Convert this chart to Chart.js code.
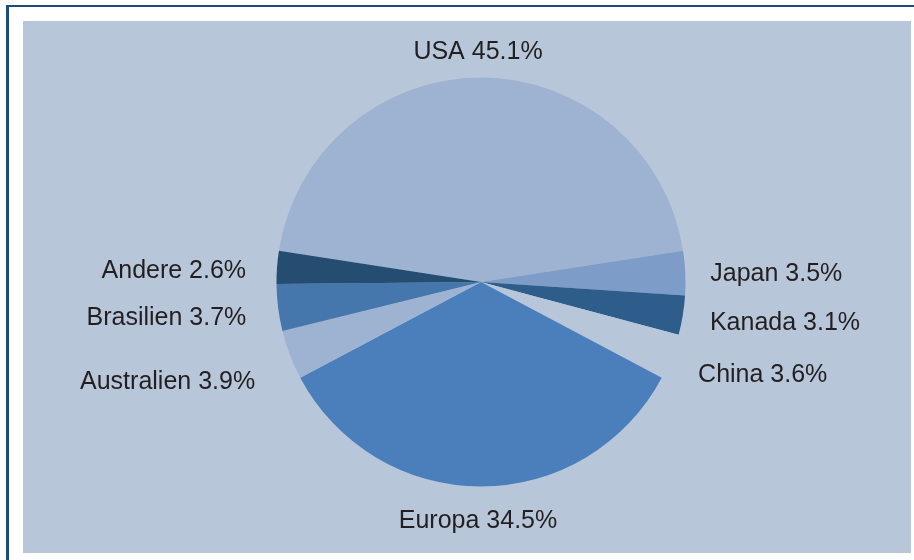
<!DOCTYPE html>
<html>
<head>
<meta charset="utf-8">
<script src="https://cdn.jsdelivr.net/npm/chart.js@4/dist/chart.umd.min.js"></script>
<style>
  html, body { margin: 0; padding: 0; background: #ffffff; width: 914px; height: 560px; overflow: hidden; }
  #frame { position: absolute; left: 6px; top: 5px; width: 920px; height: 570px;
           border-top: 2px solid #1b4d78; border-left: 3px solid #1b4d78; box-sizing: border-box; }
  #panel { position: absolute; left: 23px; top: 21px; width: 888px; height: 532px; background: #b7c6d9; }
  canvas { display: block; }
</style>
</head>
<body>
<div id="frame"></div>
<div id="panel"><canvas id="c" width="888" height="532"></canvas></div>
<script>
const categories = ["USA", "Japan", "Kanada", "China", "Europa", "Australien", "Brasilien", "Andere"];
const shares = [45.1, 3.5, 3.1, 3.6, 34.5, 3.9, 3.7, 2.6];
const sliceColors = ["#9eb3d2", "#7d9cc7", "#2e5d8b", "#b7c6d9", "#4a7fbc", "#9eb3d2", "#4577ad", "#244d71"];

// small hand nudges for label placement (pixels), same order as categories
const labelNudge = [[-3, -1.5], [-1, 0.5], [1.5, 2], [2.5, 7], [-3, 6], [-10.5, 16], [-6, 5], [-5, 4]];

const labelPlugin = {
  id: 'sliceLabels',
  afterDatasetsDraw(chart) {
    const ctx = chart.ctx;
    const meta = chart.getDatasetMeta(0);
    ctx.save();
    ctx.font = '25px "Liberation Sans", Arial, sans-serif';
    ctx.fillStyle = '#231f20';
    ctx.textBaseline = 'alphabetic';
    meta.data.forEach((arc, i) => {
      const p = arc.getProps(['x', 'y', 'startAngle', 'endAngle', 'outerRadius'], true);
      const mid = (p.startAngle + p.endAngle) / 2;
      const r = p.outerRadius + 26;
      const cx = Math.cos(mid), cy = Math.sin(mid);
      let x = p.x + cx * r + labelNudge[i][0];
      let y = p.y + cy * r + labelNudge[i][1] + 9;
      ctx.textAlign = cx > 0.3 ? 'left' : (cx < -0.3 ? 'right' : 'center');
      ctx.fillText(categories[i] + ' ' + shares[i].toFixed(1) + '%', x, y);
    });
    ctx.restore();
  }
};

const half = shares[0] / 100 * 360 / 2;

new Chart(document.getElementById('c'), {
  type: 'pie',
  data: {
    labels: categories,
    datasets: [{
      data: shares,
      backgroundColor: sliceColors,
      borderWidth: 0
    }]
  },
  options: {
    responsive: false,
    animation: false,
    rotation: -half,
    layout: { padding: { top: 56.5, bottom: 66.5, left: 28, right: 0 } },
    plugins: { legend: { display: false }, tooltip: { enabled: false } }
  },
  plugins: [labelPlugin]
});
</script>
</body>
</html>
